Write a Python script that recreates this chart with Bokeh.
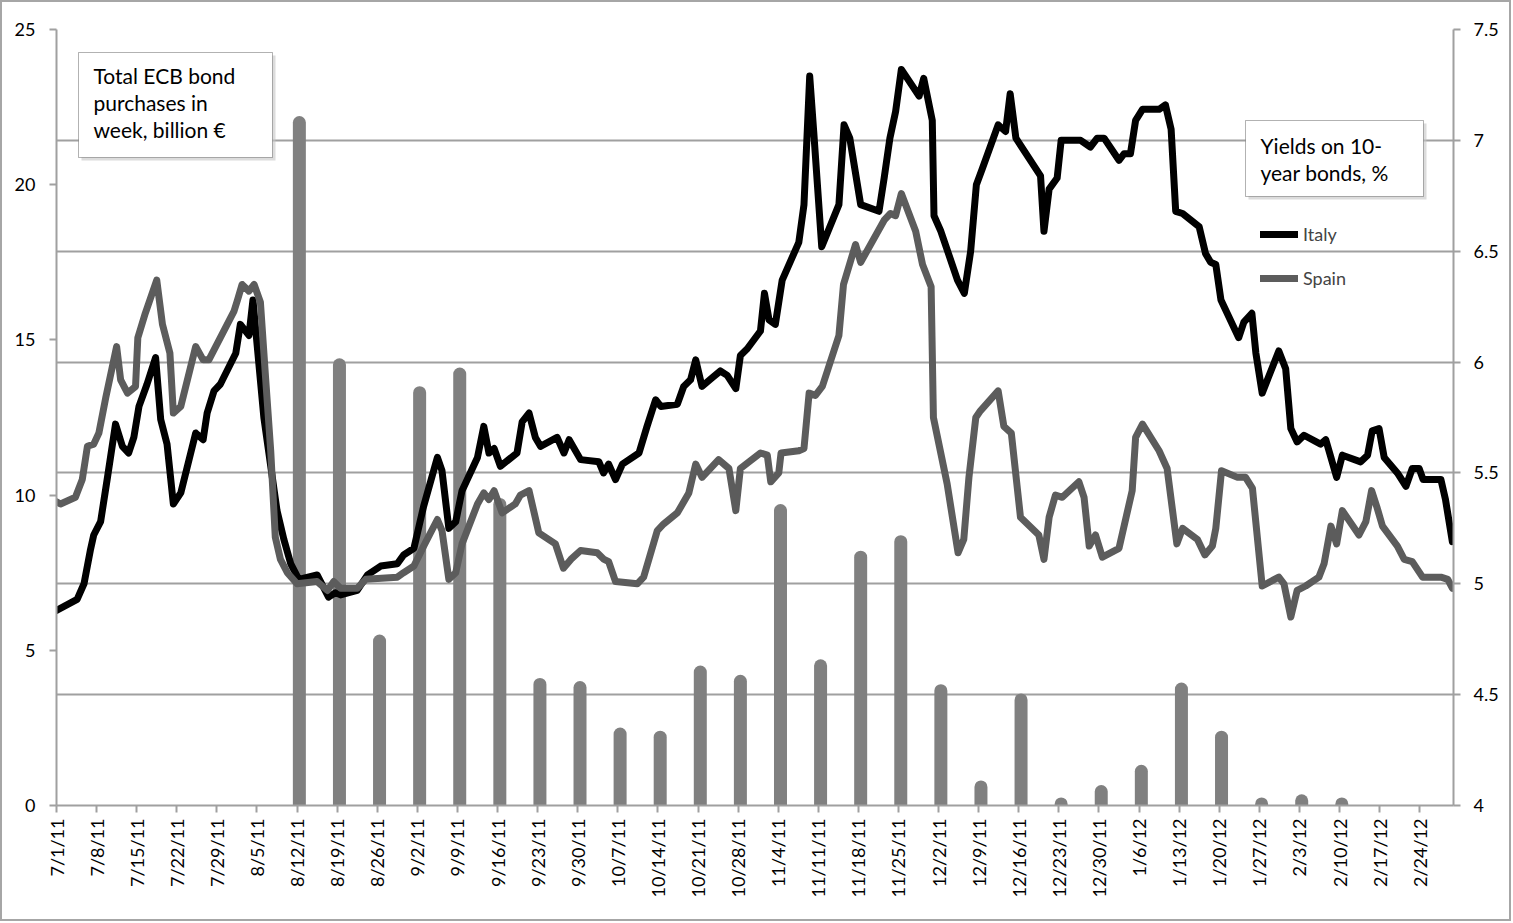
import math
from datetime import datetime

from bokeh.plotting import figure
from bokeh.models import (Range1d, LinearAxis, FixedTicker, Grid, Legend,
                          LegendItem, Label, BoxAnnotation)
from bokeh.embed import file_html
from bokeh.resources import INLINE

# ---------------------------------------------------------------- data
START = datetime(2011, 7, 1)

tick_labels = ["7/1/11", "7/8/11", "7/15/11", "7/22/11", "7/29/11", "8/5/11",
               "8/12/11", "8/19/11", "8/26/11", "9/2/11", "9/9/11", "9/16/11",
               "9/23/11", "9/30/11", "10/7/11", "10/14/11", "10/21/11",
               "10/28/11", "11/4/11", "11/11/11", "11/18/11", "11/25/11",
               "12/2/11", "12/9/11", "12/16/11", "12/23/11", "12/30/11",
               "1/6/12", "1/13/12", "1/20/12", "1/27/12", "2/3/12", "2/10/12",
               "2/17/12", "2/24/12"]

# weekly ECB bond purchases, billion EUR
bar_weeks = ["8/12/11", "8/19/11", "8/26/11", "9/2/11", "9/9/11", "9/16/11",
             "9/23/11", "9/30/11", "10/7/11", "10/14/11", "10/21/11",
             "10/28/11", "11/4/11", "11/11/11", "11/18/11", "11/25/11",
             "12/2/11", "12/9/11", "12/16/11", "12/23/11", "12/30/11",
             "1/6/12", "1/13/12", "1/20/12", "1/27/12", "2/3/12", "2/10/12",
             "2/17/12", "2/24/12"]
bar_values = [22.0, 14.2, 5.3, 13.3, 13.9, 9.7, 3.9, 3.8, 2.3, 2.2, 4.3, 4.0,
              9.5, 4.5, 8.0, 8.5, 3.7, 0.6, 3.4, 0.05, 0.45, 1.1, 3.75, 2.2,
              0.05, 0.15, 0.05, 0.0, 0.0]

# 10-year yields, % (x = days after 1 Jul 2011)
italy_days = [0.0, 3.6, 4.8, 5.9, 6.5, 7.7, 8.9, 10.3, 11.5, 12.6, 13.5, 14.4,
              15.8, 17.3, 18.2, 19.3, 20.4, 21.7, 24.3, 25.6, 26.3, 27.5, 28.6,
              31.3, 32.1, 33.6, 34.3, 36.2, 38.5, 39.7, 40.9, 42.3, 45.5, 47.5,
              48.7, 49.6, 52.5, 54.3, 56.6, 59.5, 60.6, 61.8, 62.4, 64.1, 66.5,
              67.3, 68.5, 69.7, 70.8, 73.5, 74.6, 75.5, 76.4, 77.5, 80.4, 81.3,
              82.5, 83.6, 84.5, 87.4, 88.6, 89.5, 91.5, 94.7, 95.5, 96.4, 97.6,
              98.8, 101.7, 103.1, 104.6, 105.5, 108.4, 109.5, 110.7, 111.6,
              112.7, 114.5, 115.9, 117.1, 118.6, 119.4, 120.6, 122.9, 123.6,
              124.4, 125.5, 126.7, 129.6, 130.5, 131.5, 132.2, 133.6, 136.6,
              137.5, 138.5, 140.4, 143.6, 144.5, 145.5, 146.5, 147.5, 150.6,
              151.4, 152.9, 153.2, 154.4, 157.3, 158.5, 159.6, 160.6, 161.6,
              164.4, 165.7, 166.5, 167.5, 171.8, 172.4, 173.3, 174.7, 175.4,
              178.8, 180.5, 181.7, 182.9, 185.5, 186.4, 187.5, 188.4, 189.6,
              192.5, 193.6, 194.6, 195.4, 196.6, 199.5, 200.6, 201.5, 202.4,
              203.3, 206.4, 207.3, 208.7, 209.4, 210.5, 213.4, 214.6, 215.5,
              216.6, 217.8, 220.7, 221.6, 222.5, 223.5, 224.5, 227.7, 228.9,
              229.7, 230.9, 231.8, 234.1, 235.6, 236.7, 237.9, 238.6, 241.7,
              242.5, 243.7]
italy_yield = [4.88, 4.93, 5.00, 5.15, 5.22, 5.28, 5.48, 5.72, 5.62, 5.59,
               5.66, 5.80, 5.90, 6.02, 5.74, 5.63, 5.36, 5.41, 5.68, 5.65,
               5.77, 5.87, 5.90, 6.04, 6.17, 6.12, 6.28, 5.75, 5.33, 5.20,
               5.09, 5.02, 5.04, 4.94, 4.96, 4.95, 4.97, 5.04, 5.08, 5.09,
               5.13, 5.15, 5.16, 5.35, 5.57, 5.51, 5.25, 5.28, 5.42, 5.57,
               5.71, 5.59, 5.61, 5.53, 5.59, 5.73, 5.77, 5.66, 5.62, 5.66,
               5.59, 5.65, 5.56, 5.55, 5.50, 5.54, 5.47, 5.54, 5.59, 5.71,
               5.83, 5.80, 5.81, 5.89, 5.92, 6.01, 5.89, 5.93, 5.96, 5.94,
               5.88, 6.03, 6.06, 6.14, 6.31, 6.19, 6.17, 6.37, 6.54, 6.71,
               7.29, 7.04, 6.52, 6.71, 7.07, 7.01, 6.71, 6.68, 6.83, 7.01,
               7.13, 7.32, 7.20, 7.28, 7.09, 6.66, 6.59, 6.37, 6.31, 6.50,
               6.80, 6.87, 7.07, 7.04, 7.21, 7.01, 6.84, 6.59, 6.78, 6.83,
               7.00, 7.00, 6.97, 7.01, 7.01, 6.91, 6.94, 6.94, 7.09, 7.14,
               7.14, 7.16, 7.05, 6.68, 6.67, 6.61, 6.49, 6.45, 6.44, 6.28,
               6.11, 6.18, 6.22, 6.04, 5.86, 6.05, 5.97, 5.70, 5.64, 5.67,
               5.63, 5.65, 5.57, 5.48, 5.58, 5.55, 5.58, 5.69, 5.70, 5.57,
               5.50, 5.44, 5.52, 5.52, 5.47, 5.47, 5.38, 5.19]

spain_days = [0.0, 0.7, 3.3, 4.5, 5.4, 6.5, 7.4, 8.6, 10.5, 11.2, 12.4, 13.8,
              14.2, 15.5, 17.5, 18.5, 19.8, 20.4, 21.7, 24.3, 25.6, 26.6, 31.0,
              31.6, 32.4, 33.6, 34.5, 35.6, 36.5, 37.4, 38.2, 39.1, 40.3, 42.0,
              45.5, 47.3, 48.4, 49.6, 52.5, 54.0, 59.5, 60.6, 61.8, 62.4, 64.1,
              66.5, 67.3, 68.5, 69.7, 70.8, 73.5, 74.6, 75.5, 76.4, 77.8, 80.1,
              81.0, 82.5, 84.2, 87.1, 88.5, 89.8, 91.5, 94.4, 95.6, 96.4, 97.6,
              101.4, 102.5, 104.9, 106.0, 108.4, 110.4, 111.6, 112.7, 115.6,
              117.4, 118.6, 119.4, 122.9, 124.1, 124.7, 126.1, 126.5, 129.6,
              130.5, 131.4, 132.5, 133.7, 136.6, 137.4, 139.5, 140.4, 144.5,
              145.6, 146.5, 147.5, 150.0, 151.2, 152.7, 153.1, 155.5, 157.4,
              158.4, 159.3, 160.5, 161.3, 164.4, 165.4, 166.7, 168.3, 171.5,
              172.4, 173.3, 174.4, 175.6, 178.5, 179.4, 180.3, 181.4, 182.6,
              185.5, 187.8, 188.4, 189.6, 192.5, 193.9, 195.6, 196.6, 199.2,
              200.5, 201.8, 202.4, 203.4, 206.2, 207.6, 208.8, 210.5, 213.4,
              214.3, 215.5, 216.6, 218.1, 220.4, 221.3, 222.5, 223.5, 224.5,
              227.4, 228.6, 229.6, 230.6, 231.5, 234.1, 235.3, 236.7, 238.5,
              241.7, 242.9, 243.7]
spain_yield = [5.37, 5.36, 5.39, 5.47, 5.62, 5.63, 5.68, 5.84, 6.07, 5.92,
               5.86, 5.89, 6.11, 6.22, 6.37, 6.17, 6.04, 5.77, 5.80, 6.07,
               6.01, 6.01, 6.23, 6.28, 6.35, 6.32, 6.35, 6.27, 5.93, 5.60,
               5.21, 5.11, 5.05, 5.00, 5.01, 4.97, 5.01, 4.98, 4.98, 5.02,
               5.03, 5.05, 5.07, 5.08, 5.17, 5.29, 5.24, 5.02, 5.05, 5.18,
               5.36, 5.41, 5.38, 5.42, 5.32, 5.36, 5.40, 5.42, 5.23, 5.18,
               5.07, 5.11, 5.15, 5.14, 5.11, 5.10, 5.01, 5.00, 5.03, 5.24,
               5.27, 5.32, 5.41, 5.54, 5.48, 5.56, 5.52, 5.33, 5.52, 5.59,
               5.58, 5.46, 5.50, 5.59, 5.60, 5.61, 5.86, 5.85, 5.89, 6.12,
               6.35, 6.53, 6.45, 6.64, 6.67, 6.66, 6.76, 6.59, 6.44, 6.34,
               5.75, 5.45, 5.14, 5.20, 5.48, 5.75, 5.78, 5.87, 5.71, 5.68,
               5.30, 5.22, 5.11, 5.30, 5.40, 5.39, 5.46, 5.39, 5.17, 5.22,
               5.12, 5.16, 5.42, 5.66, 5.72, 5.60, 5.52, 5.18, 5.25, 5.20,
               5.13, 5.17, 5.25, 5.51, 5.48, 5.48, 5.43, 4.99, 5.03, 5.00,
               4.85, 4.97, 4.99, 5.03, 5.09, 5.26, 5.18, 5.33, 5.22, 5.28,
               5.42, 5.34, 5.26, 5.17, 5.11, 5.10, 5.03, 5.03, 5.02, 4.98]

left_ticks = [0, 5, 10, 15, 20, 25]
yield_ticks = [4, 4.5, 5, 5.5, 6, 6.5, 7, 7.5]

# ---------------------------------------------------------------- style
FONT = "Lato"
GRID = "#a0a0a0"
BAR = "#808080"
SPAIN = "#5c5c5c"
ITALY = "#000000"
BAR_SHIFT = 0.4


def day_of(s):
    return (datetime.strptime(s, "%m/%d/%y") - START).days


tick_pos = [day_of(t) for t in tick_labels]
bars = [(day_of(w) + BAR_SHIFT, v) for w, v in zip(bar_weeks, bar_values) if v > 0]
bar_x = [b[0] for b in bars]
bar_y = [b[1] for b in bars]

p = figure(frame_width=1397, frame_height=776,
           x_range=Range1d(0, 243.9), y_range=Range1d(0, 25),
           output_backend="svg", toolbar_location=None,
           min_border_left=54, min_border_right=56,
           min_border_top=27, min_border_bottom=114,
           background_fill_color="white", border_fill_color="white",
           outline_line_color=None)
p.styles = {"border": "2px solid #a6a6a6"}
p.extra_y_ranges = {"yield": Range1d(4, 7.5)}
p.xgrid.visible = False
p.ygrid.visible = False

p.add_layout(Grid(dimension=1, ticker=FixedTicker(ticks=yield_ticks[1:]),
                  y_range_name="yield", grid_line_color=GRID,
                  grid_line_width=2))


def style_axis(ax, standoff):
    ax.axis_line_color = GRID
    ax.axis_line_width = 2
    ax.major_tick_line_color = GRID
    ax.major_tick_line_width = 2
    ax.major_tick_out = 7
    ax.major_tick_in = 0
    ax.minor_tick_line_color = None
    ax.major_label_text_font = FONT
    ax.major_label_text_font_size = "18px"
    ax.major_label_text_color = "black"
    ax.major_label_standoff = standoff


xa = p.xaxis[0]
xa.ticker = FixedTicker(ticks=tick_pos)
xa.major_label_overrides = {pos: lab for pos, lab in zip(tick_pos, tick_labels)}
xa.major_label_orientation = math.pi / 2
style_axis(xa, 6)

ya = p.yaxis[0]
ya.ticker = FixedTicker(ticks=left_ticks)
style_axis(ya, 14)

ra = LinearAxis(y_range_name="yield", ticker=FixedTicker(ticks=yield_ticks),
                major_label_overrides={t: f"{t:g}" for t in yield_ticks})
style_axis(ra, 13)
p.add_layout(ra, "right")

# bars (thick rounded strokes)
p.segment(x0=bar_x, y0=[0] * len(bar_x), x1=bar_x, y1=bar_y,
          line_color=BAR, line_width=13, line_cap="round")

r_it = p.line(italy_days, italy_yield, y_range_name="yield", line_color=ITALY,
              line_width=7, line_join="round", line_cap="round")
r_es = p.line(spain_days, spain_yield, y_range_name="yield", line_color=SPAIN,
              line_width=7, line_join="round", line_cap="round")

legend = Legend(items=[LegendItem(label="Italy", renderers=[r_it]),
                       LegendItem(label="Spain", renderers=[r_es])],
                location=(1204, 516), orientation="vertical",
                padding=0, margin=0, spacing=22,
                glyph_width=38, glyph_height=20, label_height=20,
                label_standoff=5, label_text_font=FONT,
                label_text_font_size="18px", border_line_color=None,
                background_fill_alpha=0)
p.add_layout(legend)

# text boxes
for (l, r, t, b) in [(22, 216, 753, 648), (1189, 1367, 685, 609)]:
    p.add_layout(BoxAnnotation(left=l + 3, right=r + 3, top=t - 3, bottom=b - 3,
                               left_units="screen", right_units="screen",
                               top_units="screen", bottom_units="screen",
                               fill_color="#c4c4c4", fill_alpha=0.6,
                               line_color=None))
    p.add_layout(BoxAnnotation(left=l, right=r, top=t, bottom=b,
                               left_units="screen", right_units="screen",
                               top_units="screen", bottom_units="screen",
                               fill_color="white", fill_alpha=1.0,
                               line_color="black", line_width=1))

p.add_layout(Label(x=37, y=743, x_units="screen", y_units="screen",
                   text="Total ECB bond\npurchases in\nweek, billion €",
                   text_font=FONT, text_font_size="21px", text_baseline="top",
                   text_align="left", text_line_height=1.08, text_color="black"))
p.add_layout(Label(x=1204, y=673, x_units="screen", y_units="screen",
                   text="Yields on 10-\nyear bonds, %",
                   text_font=FONT, text_font_size="21px", text_baseline="top",
                   text_align="left", text_line_height=1.08, text_color="black"))

open("out.html", "w", encoding="utf-8").write(file_html(p, INLINE))
